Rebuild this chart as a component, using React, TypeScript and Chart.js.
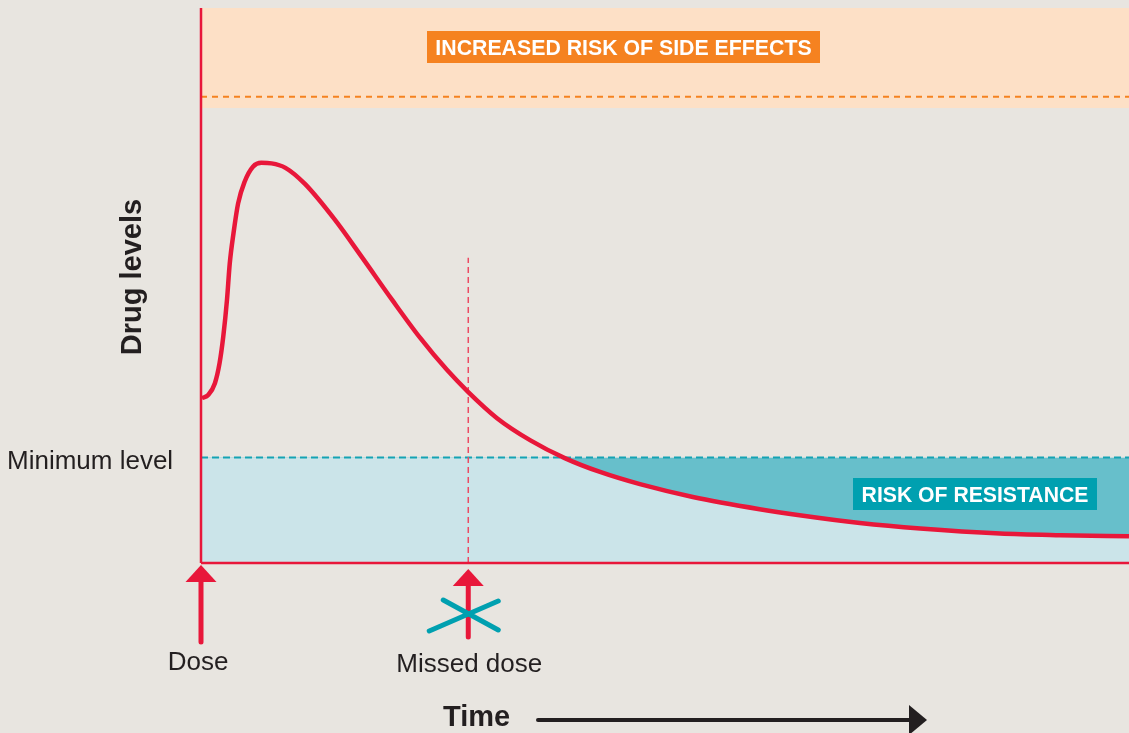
import React, { useEffect, useRef } from "react";
import { Chart, registerables } from "chart.js";

Chart.register(...registerables);

// ---- data ----
const TIME = [0.1, 0.8, 1.5, 2.0, 2.4, 2.8, 3.1, 3.5, 4.0, 4.7, 5.6, 6.5, 7.6, 9.1, 11.2, 14.4, 17.3, 20.6, 23.6, 26.5, 28.8, 31.9, 35.5, 39.2, 43.0, 47.3, 53.0, 60.2, 64.5, 71.0, 77.5, 86.1, 92.6, 100];
const LEVEL = [29.7, 30.3, 32.4, 36.0, 40.8, 47.4, 54.0, 59.4, 64.8, 68.7, 71.4, 72.1, 72.0, 71.2, 68.3, 61.9, 55.2, 47.4, 40.6, 34.8, 30.8, 26.1, 22.1, 18.9, 16.4, 14.2, 11.9, 9.7, 8.6, 7.2, 6.2, 5.3, 5.0, 4.8];
const MIN_LEVEL = 19;
const SIDE_EFFECT_LEVEL = 84;
const SIDE_EFFECT_BAND = [82, 100];
const DOSE_TIME = 0;
const MISSED_DOSE_TIME = 28.8;
const MISSED_LINE_TOP = 55;
const X_RANGE = [0, 100];
const Y_RANGE = [0, 100];

const BG = "#e8e5e0";
const RED = "#e8173a";
const ORANGE = "#f58220";
const TEAL = "#00a0b0";
const TEXT = "#231f20";
const FONT = "'Liberation Sans', Arial, Helvetica, sans-serif";

const decorPlugin = {
  id: "decor",
  afterDraw(chart: any) {
    const ctx = chart.ctx as CanvasRenderingContext2D;
    const xs = chart.scales.x;
    const ys = chart.scales.y;
    const axisY = ys.getPixelForValue(0);
    ctx.save();

    // arrows below axis
    const drawArrow = (x: number, tipY: number, headH: number, endY: number) => {
      ctx.fillStyle = RED;
      ctx.strokeStyle = RED;
      ctx.lineWidth = 5;
      ctx.lineCap = "round";
      ctx.beginPath();
      ctx.moveTo(x, tipY + headH - 2);
      ctx.lineTo(x, endY);
      ctx.stroke();
      ctx.beginPath();
      ctx.moveTo(x, tipY);
      ctx.lineTo(x - 15.5, tipY + headH);
      ctx.lineTo(x + 15.5, tipY + headH);
      ctx.closePath();
      ctx.fill();
    };
    const doseX = xs.getPixelForValue(DOSE_TIME);
    const missX = xs.getPixelForValue(MISSED_DOSE_TIME);
    drawArrow(doseX, axisY + 2, 17, axisY + 79);
    drawArrow(missX, axisY + 6, 17, axisY + 74);

    // teal cross
    ctx.strokeStyle = TEAL;
    ctx.lineWidth = 5;
    ctx.lineCap = "round";
    ctx.beginPath();
    ctx.moveTo(missX - 39, axisY + 68);
    ctx.lineTo(missX + 30, axisY + 38);
    ctx.moveTo(missX - 25, axisY + 37);
    ctx.lineTo(missX + 30, axisY + 67);
    ctx.stroke();

    // texts
    ctx.fillStyle = TEXT;
    ctx.textBaseline = "alphabetic";
    ctx.font = `26px ${FONT}`;
    ctx.textAlign = "center";
    ctx.fillText("Dose", doseX - 3, axisY + 107);
    ctx.fillText("Missed dose", missX + 1, axisY + 109);
    ctx.textAlign = "left";
    ctx.fillText("Minimum level", 7, ys.getPixelForValue(MIN_LEVEL) + 11);

    ctx.font = `bold 29px ${FONT}`;
    ctx.textAlign = "left";
    ctx.fillText("Time", 443, 726);

    // time arrow
    ctx.strokeStyle = TEXT;
    ctx.fillStyle = TEXT;
    ctx.lineWidth = 4;
    ctx.beginPath();
    ctx.moveTo(538, 720);
    ctx.lineTo(912, 720);
    ctx.stroke();
    ctx.beginPath();
    ctx.moveTo(909, 705);
    ctx.lineTo(927, 720);
    ctx.lineTo(909, 735);
    ctx.closePath();
    ctx.fill();

    // Drug levels (rotated)
    ctx.save();
    ctx.translate(141, 277);
    ctx.rotate(-Math.PI / 2);
    ctx.textAlign = "center";
    ctx.font = `bold 29px ${FONT}`;
    ctx.fillText("Drug levels", 0, 0);
    ctx.restore();

    // label boxes
    const box = (text: string, cx: number, cy: number, color: string, w: number, size: number) => {
      ctx.font = `bold ${size}px ${FONT}`;
      ctx.fillStyle = color;
      ctx.fillRect(cx - w / 2, cy - 16, w, 32);
      ctx.fillStyle = "#ffffff";
      ctx.textAlign = "center";
      ctx.fillText(text, cx, cy + 7.5);
    };
    box("INCREASED RISK OF SIDE EFFECTS", 623.5, 47, ORANGE, 393, 21.3);
    box("RISK OF RESISTANCE", 975, 494, TEAL, 244, 21.2);

    ctx.restore();
  },
};

export default function App() {
  const ref = useRef<HTMLCanvasElement>(null);
  useEffect(() => {
    if (!ref.current) return;
    const curve = TIME.map((t, i) => ({ x: t, y: LEVEL[i] }));
    const chart = new Chart(ref.current, {
      type: "line",
      data: {
        datasets: [
          // axes
          {
            data: [{ x: X_RANGE[0], y: Y_RANGE[0] }, { x: X_RANGE[0], y: Y_RANGE[1] }],
            borderColor: RED, borderWidth: 2.5, pointRadius: 0, fill: false, clip: false,
          } as any,
          {
            data: [{ x: X_RANGE[0], y: Y_RANGE[0] }, { x: X_RANGE[1], y: Y_RANGE[0] }],
            borderColor: RED, borderWidth: 2.5, pointRadius: 0, fill: false, clip: false,
          } as any,
          // curve
          {
            data: curve,
            borderColor: RED,
            borderWidth: 4.5,
            pointRadius: 0,
            cubicInterpolationMode: "monotone",
            fill: { target: { value: MIN_LEVEL }, above: "rgba(0,0,0,0)", below: "#67bfcb" },
          } as any,
          // missed dose vertical dashed
          {
            data: [{ x: MISSED_DOSE_TIME, y: 0 }, { x: MISSED_DOSE_TIME, y: MISSED_LINE_TOP }],
            borderColor: "#ec4a63", borderWidth: 1.5, borderDash: [6, 4], pointRadius: 0, fill: false,
          } as any,
          // minimum level dashed
          {
            data: [{ x: X_RANGE[0], y: MIN_LEVEL }, { x: X_RANGE[1], y: MIN_LEVEL }],
            borderColor: "#14a3b4", borderWidth: 2, borderDash: [7, 4], pointRadius: 0, fill: false,
          } as any,
          // light blue area
          {
            data: [{ x: X_RANGE[0], y: MIN_LEVEL }, { x: X_RANGE[1], y: MIN_LEVEL }],
            borderWidth: 0, borderColor: "rgba(0,0,0,0)", backgroundColor: "#cbe4e9", pointRadius: 0, fill: "origin",
          } as any,
          // side effect dashed
          {
            data: [{ x: X_RANGE[0], y: SIDE_EFFECT_LEVEL }, { x: X_RANGE[1], y: SIDE_EFFECT_LEVEL }],
            borderColor: ORANGE, borderWidth: 2, borderDash: [6, 5], pointRadius: 0, fill: false,
          } as any,
          // side effect band
          {
            data: [{ x: X_RANGE[0], y: SIDE_EFFECT_BAND[1] }, { x: X_RANGE[1], y: SIDE_EFFECT_BAND[1] }],
            borderWidth: 0, borderColor: "rgba(0,0,0,0)", backgroundColor: "#fde0c6", pointRadius: 0,
            fill: { value: SIDE_EFFECT_BAND[0] },
          } as any,
        ],
      },
      options: {
        animation: false,
        responsive: false,
        layout: { padding: { left: 201, right: 0, top: 8, bottom: 170 } },
        scales: {
          x: { type: "linear", min: X_RANGE[0], max: X_RANGE[1], display: false },
          y: { type: "linear", min: Y_RANGE[0], max: Y_RANGE[1], display: false },
        },
        plugins: {
          legend: { display: false },
          tooltip: { enabled: false },
          filler: { drawTime: "beforeDatasetsDraw" } as any,
        },
        events: [],
      },
      plugins: [decorPlugin],
    });
    return () => chart.destroy();
  }, []);
  return (
    <div style={{ position: "fixed", left: 0, top: 0, right: 0, bottom: 0, background: BG }}>
      <canvas ref={ref} width={1129} height={733} style={{ position: "absolute", left: 0, top: 0 }} />
    </div>
  );
}
